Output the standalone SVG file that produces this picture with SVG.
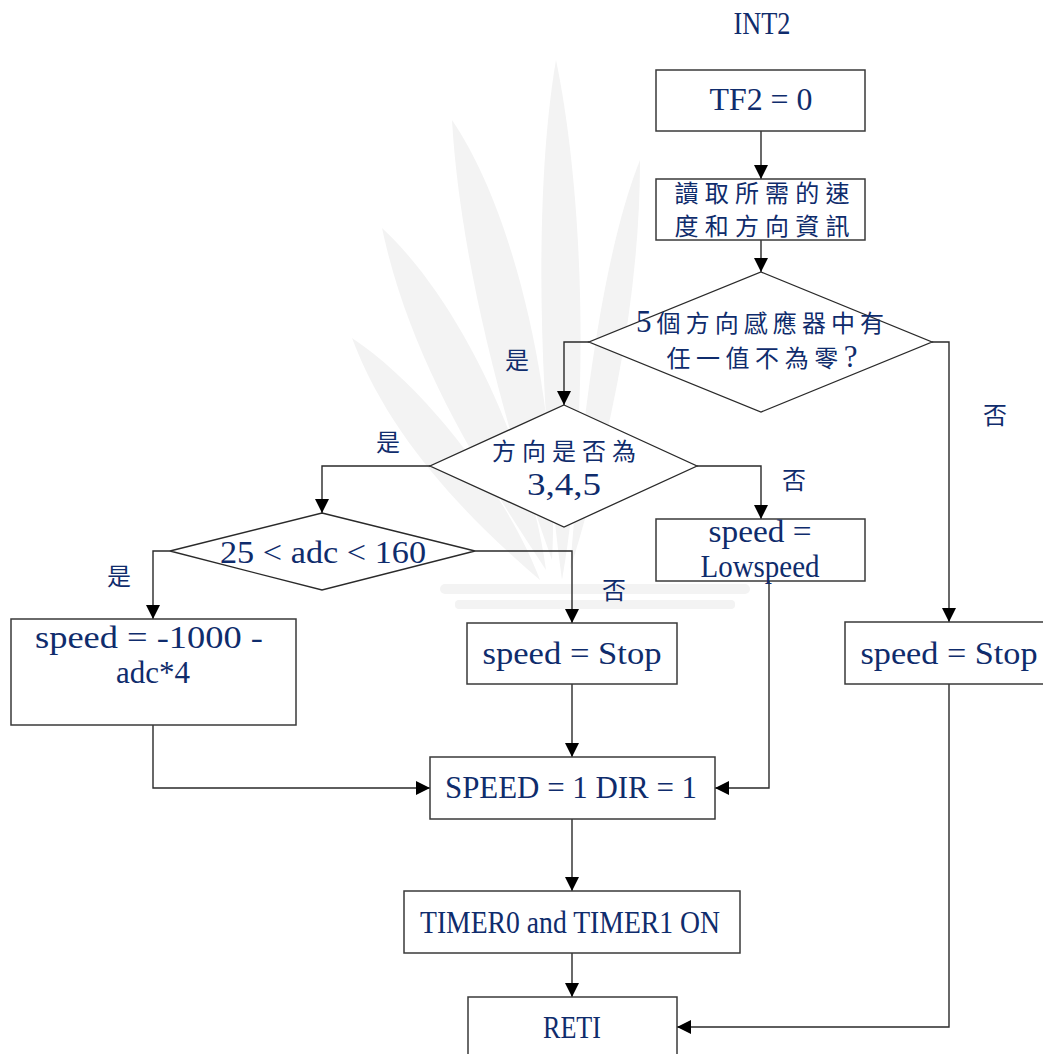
<svg xmlns="http://www.w3.org/2000/svg" width="1043" height="1054" viewBox="0 0 1043 1054">
  <defs>
    <marker id="arrow" markerWidth="14" markerHeight="14" refX="14" refY="7" orient="auto" markerUnits="userSpaceOnUse">
      <path d="M0,0 L14,7 L0,14 Z" fill="#000"/>
    </marker>
  </defs>
  <style>
    .box { fill: #fff; stroke: #3a3a3a; stroke-width: 1.5; }
    .dia { fill: #fff; stroke: #2a2a2a; stroke-width: 1.3; }
    .wire { fill: none; stroke: #2a2a2a; stroke-width: 1.4; marker-end: url(#arrow); }
    .lat { font-family: "Liberation Serif", "DejaVu Serif", serif; font-size: 31px; fill: #0f2c6c; text-anchor: middle; }
    .cjk { font-family: "Noto Sans CJK TC", "Noto Sans CJK SC", sans-serif; font-size: 24px; fill: #0f2c6c; text-anchor: middle; }
    .num { font-family: "Liberation Serif", serif; font-size: 31px; }
    .leaf { fill: #f3f3f3; }
  </style>

  <rect width="1043" height="1054" fill="#fff"/>

  <!-- faint background emblem -->
  <g id="emblem">
    <path class="leaf" d="M556,60 C585,200 590,420 562,580 C540,420 532,200 556,60 Z"/>
    <path class="leaf" d="M452,120 C520,220 560,420 552,560 C505,430 460,260 452,120 Z"/>
    <path class="leaf" d="M382,228 C460,300 530,450 546,570 C480,470 410,360 382,228 Z"/>
    <path class="leaf" d="M352,338 C430,390 510,500 540,580 C470,520 390,440 352,338 Z"/>
    <path class="leaf" d="M640,160 C600,260 580,440 570,570 C610,440 640,300 640,160 Z"/>
    <rect class="leaf" x="440" y="584" width="310" height="10" rx="5"/>
    <rect class="leaf" x="455" y="600" width="280" height="9" rx="4"/>
  </g>

  <!-- connectors -->
  <g id="connectors">
    <path class="wire" d="M761,131 V179"/>
    <path class="wire" d="M761,240 V272"/>
    <path class="wire" d="M589,342 H564 V405"/>
    <path class="wire" d="M932,342 H949 V622"/>
    <path class="wire" d="M430,466 H322 V513"/>
    <path class="wire" d="M697,466 H761 V519"/>
    <path class="wire" d="M170,551 H153 V619"/>
    <path class="wire" d="M475,551 H572 V623"/>
    <path class="wire" d="M153,725 V788 H430"/>
    <path class="wire" d="M572,684 V757"/>
    <path class="wire" d="M769,581 V788 H715"/>
    <path class="wire" d="M572,819 V891"/>
    <path class="wire" d="M572,953 V997"/>
    <path class="wire" d="M949,684 V1027 H677"/>
  </g>

  <!-- branch labels -->
  <g id="labels">
    <text class="cjk" x="517" y="369">是</text>
    <text class="cjk" x="995" y="424">否</text>
    <text class="cjk" x="388" y="451">是</text>
    <text class="cjk" x="794" y="489">否</text>
    <text class="cjk" x="119" y="585">是</text>
    <text class="cjk" x="614" y="599">否</text>
  </g>

  <g id="title">
    <text class="lat" x="762" y="34" textLength="57" lengthAdjust="spacingAndGlyphs">INT2</text>
  </g>

  <g id="tf2">
    <rect class="box" x="656" y="70" width="209" height="61"/>
    <text class="lat" x="761" y="110" textLength="103" lengthAdjust="spacingAndGlyphs">TF2 = 0</text>
  </g>

  <g id="read">
    <rect class="box" x="656" y="179" width="209" height="61"/>
    <text class="cjk" x="762" y="202" textLength="175" lengthAdjust="spacing">讀取所需的速</text>
    <text class="cjk" x="762" y="235" textLength="175" lengthAdjust="spacing">度和方向資訊</text>
  </g>

  <g id="check-sensors">
    <polygon class="dia" points="761,272 932,342 761,412 589,342"/>
    <text class="cjk" x="760" y="332" textLength="248" lengthAdjust="spacing"><tspan class="num">5</tspan>個方向感應器中有</text>
    <text class="cjk" x="762" y="367" textLength="191" lengthAdjust="spacing">任一值不為零<tspan class="num">?</tspan></text>
  </g>

  <g id="check-dir">
    <polygon class="dia" points="564,405 697,466 564,527 430,466"/>
    <text class="cjk" x="564" y="460" textLength="144" lengthAdjust="spacing">方向是否為</text>
    <text class="lat" x="564" y="495" textLength="74" lengthAdjust="spacingAndGlyphs">3,4,5</text>
  </g>

  <g id="check-adc">
    <polygon class="dia" points="322,513 475,551 322,590 170,551"/>
    <text class="lat" x="323" y="563" textLength="206" lengthAdjust="spacingAndGlyphs">25 &lt; adc &lt; 160</text>
  </g>

  <g id="speed-calc">
    <rect class="box" x="11" y="619" width="285" height="106"/>
    <text class="lat" x="149" y="648" textLength="228" lengthAdjust="spacingAndGlyphs">speed = -1000  -</text>
    <text class="lat" x="153" y="683" textLength="74" lengthAdjust="spacingAndGlyphs">adc*4</text>
  </g>

  <g id="speed-stop">
    <rect class="box" x="467" y="623" width="210" height="61"/>
    <text class="lat" x="572" y="664" textLength="179" lengthAdjust="spacingAndGlyphs">speed = Stop</text>
  </g>

  <g id="speed-low">
    <rect class="box" x="656" y="519" width="209" height="62"/>
    <text class="lat" x="760" y="542" textLength="103" lengthAdjust="spacingAndGlyphs">speed =</text>
    <text class="lat" x="760" y="577" textLength="119" lengthAdjust="spacingAndGlyphs">Lowspeed</text>
  </g>

  <g id="speed-stop-2">
    <rect class="box" x="845" y="622" width="205" height="62"/>
    <text class="lat" x="949" y="664" textLength="177" lengthAdjust="spacingAndGlyphs">speed = Stop</text>
  </g>

  <g id="set-flags">
    <rect class="box" x="430" y="757" width="285" height="62"/>
    <text class="lat" x="571" y="798" textLength="252" lengthAdjust="spacingAndGlyphs">SPEED = 1 DIR = 1</text>
  </g>

  <g id="timers">
    <rect class="box" x="404" y="891" width="336" height="62"/>
    <text class="lat" x="570" y="933" textLength="300" lengthAdjust="spacingAndGlyphs">TIMER0 and TIMER1 ON</text>
  </g>

  <g id="reti">
    <rect class="box" x="468" y="997" width="209" height="70"/>
    <text class="lat" x="572" y="1038" textLength="58" lengthAdjust="spacingAndGlyphs">RETI</text>
  </g>
</svg>
